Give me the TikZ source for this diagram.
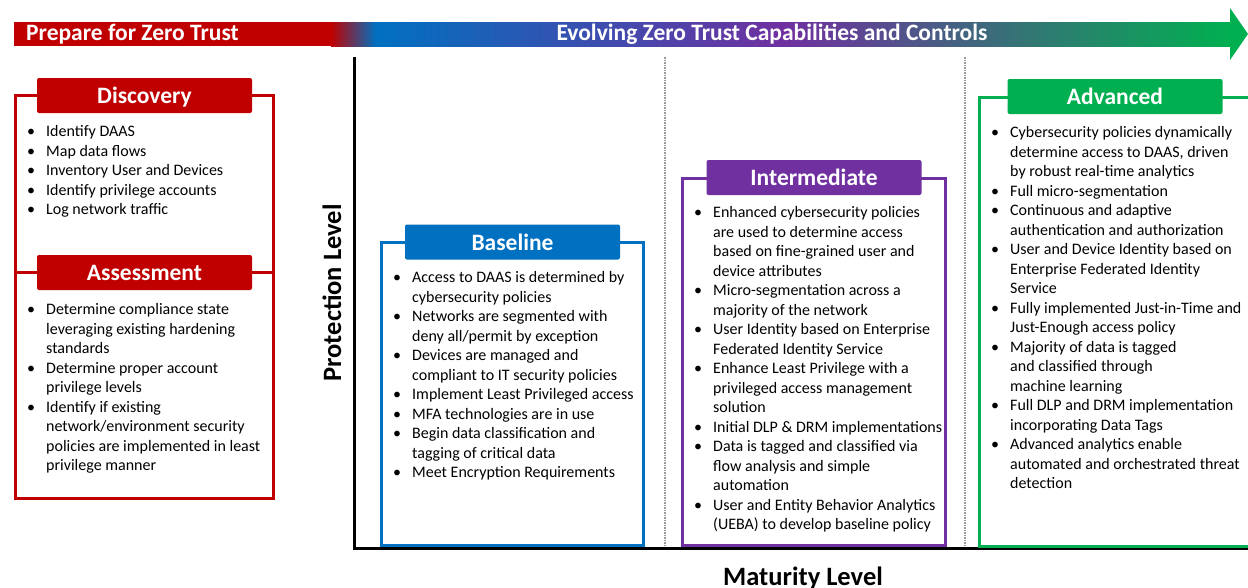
\documentclass[tikz,border=0pt]{standalone}
\usepackage{fontspec}
\setmainfont{Carlito}
\definecolor{ztred}{HTML}{C00000}
\definecolor{ztblue}{HTML}{0070C0}
\definecolor{ztpurple}{HTML}{7030A0}
\definecolor{ztgreen}{HTML}{00B050}
\newcommand{\zb}{\makebox[19pt][l]{\textbullet}}
\newcommand{\zc}{\hspace*{19pt}}
\tikzset{
  boxframe/.style={draw=#1, line width=3pt},
  headbox/.style={fill=#1, text=white, rounded corners=2pt, inner sep=0pt,
    minimum width=215pt, minimum height=35pt, text depth=0pt,
    font=\fontsize{23.5}{26}\selectfont\bfseries},
  itemlist/.style={anchor=north west, inner sep=0pt, align=left,
    font=\fontsize{16}{19.5}\selectfont},
  bartext/.style={text=white, inner sep=0pt, font=\fontsize{23.5}{26}\selectfont\bfseries},
  axislabel/.style={inner sep=0pt, font=\fontsize{26.5}{30}\selectfont\bfseries},
}
\begin{document}
\begin{tikzpicture}[x=1pt,y=-1pt]
    \useasboundingbox (0,0) rectangle (1248,587);
    % top bar
    \fill[ztred] (14,22) rectangle (332,46);
    \shade[left color=ztred, right color=ztblue] (331,22) rectangle (376,46);
    \shade[left color=ztblue, right color=ztpurple] (375,22) rectangle (785,46);
    \shade[left color=ztpurple, right color=ztgreen] (784,22) rectangle (1231,46);
    \fill[ztgreen] (1230,8) -- (1248,34) -- (1230,60) -- cycle;
    \node[bartext, anchor=west] (prep) at (26,34) {Prepare for Zero Trust};
    \node[bartext] (evolve) at (772,34) {Evolving Zero Trust Capabilities and Controls};

    % axes
    \coordinate (O) at (354,548);
    \coordinate (Y) at (354,57);
    \coordinate (X) at (1250,548);
    \coordinate (D1) at (665,57);
    \coordinate (D1b) at (665,548);
    \coordinate (D2) at (965,57);
    \coordinate (D2b) at (965,548);
    \draw[gray!80, densely dotted, line width=1.5pt] (D1) -- (D1b);
    \draw[gray!80, densely dotted, line width=1.5pt] (D2) -- (D2b);
    \draw[line width=3pt] (Y) -- (O) -- (X);
    \node[axislabel, rotate=90] (prot) at (332,293) {Protection Level};
    \node[axislabel, anchor=base] (mat) at (803,585) {Maturity Level};

    % frames
    \draw[boxframe=ztred] (15,95) rectangle (273,498);
    \draw[boxframe=ztred] (15,272) -- (273,272);
    \draw[boxframe=ztblue] (381,242) rectangle (643,545);
    \draw[boxframe=ztpurple] (682,178) rectangle (945,545);
    \draw[boxframe=ztgreen] (1252,97) -- (979,97) -- (979,546) -- (1252,546);

    % headers
    \node[headbox=ztred] (disc) at (144.5,95.5) {Discovery};
    \node[headbox=ztred] (assess) at (144.5,272.5) {Assessment};
    \node[headbox=ztblue] (base) at (512.5,242) {Baseline};
    \node[headbox=ztpurple] (inter) at (814,177.5) {Intermediate};
    \node[headbox=ztgreen] (adv) at (1115,96.5) {Advanced};

    % lists
    \node[itemlist] (disclist) at (27,125.5) {\zb Identify DAAS\\ \zb Map data flows\\
      \zb Inventory User and Devices\\ \zb Identify privilege accounts\\
      \zb Log network traffic};
    \node[itemlist] (assesslist) at (27,303.5) {\zb Determine compliance state\\
      \zc leveraging existing hardening\\ \zc standards\\
      \zb Determine proper account\\ \zc privilege levels\\
      \zb Identify if existing\\ \zc network/environment security\\
      \zc policies are implemented in least\\ \zc privilege manner};
    \node[itemlist] (baselist) at (393,271.5) {\zb Access to DAAS is determined by\\
      \zc cybersecurity policies\\ \zb Networks are segmented with\\
      \zc deny all/permit by exception\\ \zb Devices are managed and\\
      \zc compliant to IT security policies\\ \zb Implement Least Privileged access\\
      \zb MFA technologies are in use\\ \zb Begin data classification and\\
      \zc tagging of critical data\\ \zb Meet Encryption Requirements};
    \node[itemlist] (interlist) at (694,206.5) {\zb Enhanced cybersecurity policies\\
      \zc are used to determine access\\ \zc based on fine-grained user and\\
      \zc device attributes\\ \zb Micro-segmentation across a\\
      \zc majority of the network\\ \zb User Identity based on Enterprise\\
      \zc Federated Identity Service\\ \zb Enhance Least Privilege with a\\
      \zc privileged access management\\ \zc solution\\
      \zb Initial DLP \& DRM implementations\\ \zb Data is tagged and classified via\\
      \zc flow analysis and simple\\ \zc automation\\
      \zb User and Entity Behavior Analytics\\ \zc (UEBA) to develop baseline policy};
    \node[itemlist] (advlist) at (991,126.5) {\zb Cybersecurity policies dynamically\\
      \zc determine access to DAAS, driven\\ \zc by robust real-time analytics\\
      \zb Full micro-segmentation\\ \zb Continuous and adaptive\\
      \zc authentication and authorization\\ \zb User and Device Identity based on\\
      \zc Enterprise Federated Identity\\ \zc Service\\
      \zb Fully implemented Just-in-Time and\\ \zc Just-Enough access policy\\
      \zb Majority of data is tagged\\ \zc and classified through\\
      \zc machine learning\\ \zb Full DLP and DRM implementation\\
      \zc incorporating Data Tags\\ \zb Advanced analytics enable\\
      \zc automated and orchestrated threat\\ \zc detection};
\end{tikzpicture}
\end{document}
